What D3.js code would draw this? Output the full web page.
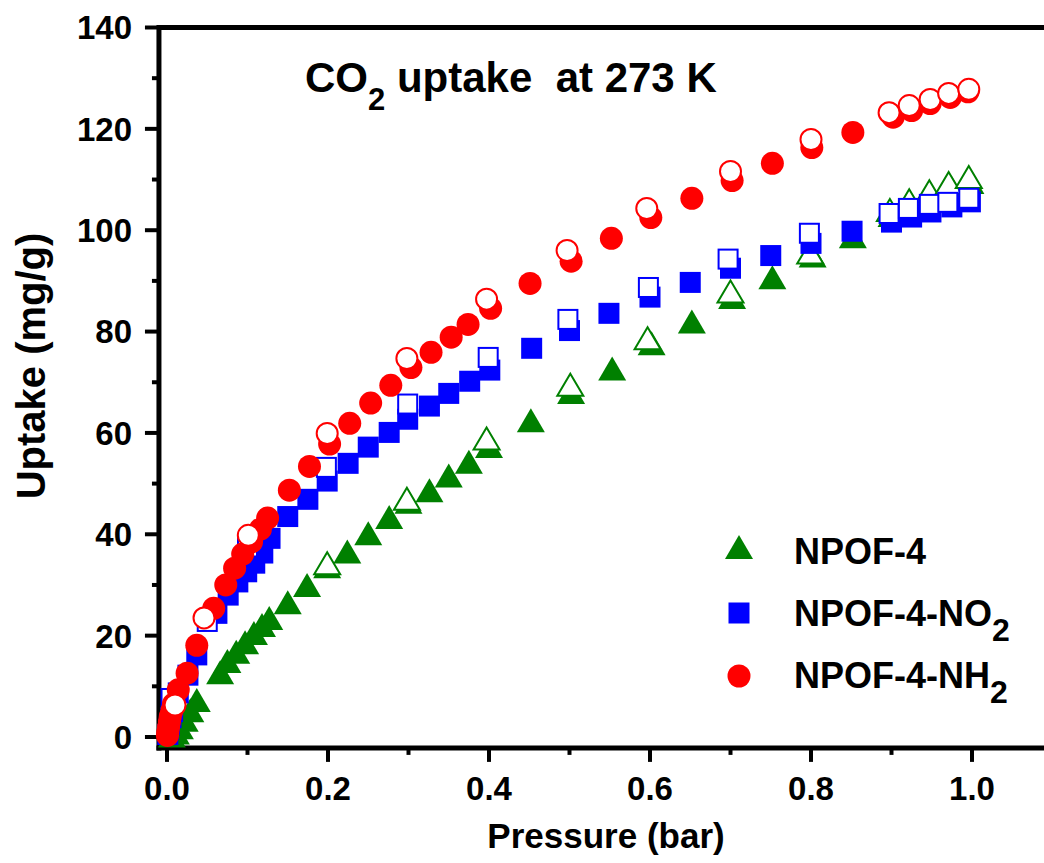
<!DOCTYPE html>
<html><head><meta charset="utf-8">
<script src="https://cdn.jsdelivr.net/npm/d3@7"></script>
<style>
html,body{margin:0;padding:0;background:#fff;}
svg text{font-family:"Liberation Sans",Arial,sans-serif;font-weight:bold;fill:#000;white-space:pre;}
</style></head>
<body><svg id="c" width="1044" height="863"></svg>
<script>
// ---- data (pressure bar, uptake mg/g) ----
const seriesNames = ["NPOF-4", "NPOF-4-NO", "NPOF-4-NH"];
const xTicks = [0.0, 0.2, 0.4, 0.6, 0.8, 1.0];
const yTicks = [0, 20, 40, 60, 80, 100, 120, 140];

const npof4Ads = [[0.006,0.3],[0.011,0.9],[0.016,1.9],[0.022,3.4],[0.029,5.3],[0.037,7.3],[0.066,12.8],[0.075,15.0],[0.086,16.8],[0.097,18.7],[0.108,20.5],[0.118,22.1],[0.127,23.5],[0.150,26.6],[0.174,30.0],[0.199,33.7],[0.224,36.6],[0.250,40.2],[0.276,43.4],[0.300,46.4],[0.326,48.7],[0.350,51.6],[0.375,54.3],[0.400,57.4],[0.452,62.5],[0.502,68.1],[0.553,72.7],[0.602,77.7],[0.652,82.0],[0.702,86.8],[0.752,90.7],[0.802,95.0],[0.852,98.8],[0.900,103.0],[0.925,105.0],[0.950,106.7],[0.975,108.3],[0.998,109.5]];
const npof4Des = [[0.199,34.3],[0.298,47.0],[0.397,58.9],[0.501,69.5],[0.597,78.7],[0.700,87.9],[0.799,95.6],[0.898,104.0],[0.922,105.9],[0.947,107.7],[0.971,109.3],[0.996,110.5]];

const no2Ads = [[0.001,0.5],[0.002,1.5],[0.003,2.5],[0.005,3.8],[0.007,5.0],[0.014,8.7],[0.026,12.2],[0.037,16.2],[0.062,24.4],[0.076,28.0],[0.088,30.6],[0.099,32.6],[0.109,34.3],[0.119,36.3],[0.128,39.2],[0.150,43.5],[0.175,46.9],[0.199,50.5],[0.225,54.0],[0.250,57.2],[0.276,60.1],[0.299,62.7],[0.326,65.3],[0.350,67.8],[0.376,70.2],[0.401,72.4],[0.453,76.7],[0.500,80.2],[0.549,83.6],[0.600,86.8],[0.650,89.7],[0.700,92.5],[0.750,95.0],[0.800,97.4],[0.851,99.8],[0.900,101.6],[0.925,102.6],[0.949,103.6],[0.975,104.6],[0.998,105.6]];
const no2Des = [[0.005,7.6],[0.050,22.8],[0.100,37.5],[0.198,53.2],[0.299,65.7],[0.399,74.9],[0.498,82.4],[0.598,88.7],[0.697,94.3],[0.798,99.4],[0.897,103.3],[0.921,104.3],[0.947,105.1],[0.970,105.5],[0.996,106.3]];

const nh2Ads = [[0.0005,0.3],[0.001,1.0],[0.002,2.0],[0.003,3.0],[0.004,4.0],[0.006,5.2],[0.008,6.5],[0.014,9.3],[0.025,12.6],[0.037,18.1],[0.058,25.4],[0.073,30.0],[0.084,33.3],[0.094,36.1],[0.105,38.5],[0.116,41.0],[0.125,43.2],[0.152,48.7],[0.177,53.4],[0.202,57.8],[0.227,61.9],[0.253,65.9],[0.278,69.4],[0.303,72.9],[0.328,75.9],[0.353,78.9],[0.374,81.4],[0.402,84.6],[0.451,89.5],[0.502,93.9],[0.552,98.4],[0.601,102.5],[0.652,106.3],[0.702,109.8],[0.752,113.2],[0.801,116.3],[0.852,119.3],[0.902,122.3],[0.925,123.6],[0.948,125.0],[0.973,126.2],[0.995,127.3]];
const nh2Des = [[0.010,6.3],[0.046,23.5],[0.101,39.8],[0.199,59.9],[0.298,74.7],[0.397,86.4],[0.497,96.0],[0.596,104.3],[0.700,111.6],[0.800,117.9],[0.897,123.2],[0.922,124.6],[0.948,125.8],[0.971,127.0],[0.996,127.8]];

// ---- layout ----
const GREEN = "#008000", BLUE = "#0000ff", RED = "#ff0000";
const svg = d3.select("#c");
const x = d3.scaleLinear().domain([0, 1]).range([167, 972]);
const y = d3.scaleLinear().domain([0, 140]).range([737, 27.5]);
const xLeft = x(-0.01), xRight = x(1.1);
const yBottom = y(-2.15), yTop = y(140);

// frame top line
svg.append("line").attr("x1", xLeft).attr("x2", xRight).attr("y1", yTop).attr("y2", yTop)
  .attr("stroke", "#000").attr("stroke-width", 5);

// y axis
const yAxis = svg.append("g");
yAxis.append("line").attr("x1", xLeft).attr("x2", xLeft).attr("y1", yTop - 2.5).attr("y2", yBottom + 2.5)
  .attr("stroke", "#000").attr("stroke-width", 5);
yTicks.forEach(t => {
  yAxis.append("line").attr("x1", xLeft - 14).attr("x2", xLeft).attr("y1", y(t)).attr("y2", y(t))
    .attr("stroke", "#000").attr("stroke-width", 4);
  yAxis.append("text").attr("x", 132).attr("y", y(t)).attr("dy", "0.36em")
    .attr("text-anchor", "end").style("font-size", "33px").text(d3.format("d")(t));
});
d3.range(10, 140, 20).forEach(t => {
  yAxis.append("line").attr("x1", xLeft - 7).attr("x2", xLeft).attr("y1", y(t)).attr("y2", y(t))
    .attr("stroke", "#000").attr("stroke-width", 4);
});

// x axis
const xAxis = svg.append("g");
xAxis.append("line").attr("x1", xLeft - 2.5).attr("x2", xRight).attr("y1", yBottom).attr("y2", yBottom)
  .attr("stroke", "#000").attr("stroke-width", 5);
xTicks.forEach(t => {
  xAxis.append("line").attr("x1", x(t)).attr("x2", x(t)).attr("y1", yBottom).attr("y2", yBottom + 14)
    .attr("stroke", "#000").attr("stroke-width", 4);
  xAxis.append("text").attr("x", x(t)).attr("y", 800)
    .attr("text-anchor", "middle").style("font-size", "33px").text(d3.format(".1f")(t));
});
[0.1, 0.3, 0.5, 0.7, 0.9, 1.1].forEach(t => {
  xAxis.append("line").attr("x1", x(t)).attr("x2", x(t)).attr("y1", yBottom).attr("y2", yBottom + 7)
    .attr("stroke", "#000").attr("stroke-width", 4);
});

// axis titles
svg.append("text").attr("x", 606).attr("y", 848).attr("text-anchor", "middle")
  .style("font-size", "35px").text("Pressure (bar)");
svg.append("text").attr("transform", "translate(45,366) rotate(-90)").attr("text-anchor", "middle")
  .style("font-size", "40px").text("Uptake (mg/g)");

// chart title
const title = svg.append("text").attr("x", 305).attr("y", 92).style("font-size", "42px");
title.append("tspan").text("CO");
title.append("tspan").attr("dy", 18).style("font-size", "31px").text("2");
title.append("tspan").attr("dy", -18).text(" uptake  at 273 K");

// ---- markers ----
const triPath = (w, h) => `M0,${-h/2}L${w/2},${h/2}L${-w/2},${h/2}Z`;
const plot = svg.append("g");

function triangles(data, filled) {
  plot.append("g").selectAll("path").data(data).join("path")
    .attr("transform", d => `translate(${x(d[0])},${y(d[1])})`)
    .attr("d", filled ? triPath(28, 24) : triPath(26, 22))
    .attr("fill", filled ? GREEN : "#fff")
    .attr("stroke", GREEN).attr("stroke-width", filled ? 0 : 2).attr("stroke-linejoin", "miter");
}
function squares(data, filled) {
  const s = filled ? 21 : 19;
  plot.append("g").selectAll("rect").data(data).join("rect")
    .attr("x", d => x(d[0]) - s/2).attr("y", d => y(d[1]) - s/2)
    .attr("width", s).attr("height", s)
    .attr("fill", filled ? BLUE : "#fff")
    .attr("stroke", BLUE).attr("stroke-width", filled ? 0 : 2);
}
function circles(data, filled) {
  plot.append("g").selectAll("circle").data(data).join("circle")
    .attr("cx", d => x(d[0])).attr("cy", d => y(d[1]))
    .attr("r", filled ? 11.5 : 10.5)
    .attr("fill", filled ? RED : "#fff")
    .attr("stroke", RED).attr("stroke-width", filled ? 0 : 2);
}
triangles(npof4Ads, true);
triangles(npof4Des, false);
squares(no2Ads, true);
squares(no2Des, false);
circles(nh2Ads, true);
circles(nh2Des, false);

// ---- legend ----
const lg = svg.append("g");
lg.append("path").attr("transform", "translate(739,547)").attr("d", triPath(28, 24)).attr("fill", GREEN);
lg.append("rect").attr("x", 739 - 10.5).attr("y", 613 - 10.5).attr("width", 21).attr("height", 21).attr("fill", BLUE);
lg.append("circle").attr("cx", 739).attr("cy", 676).attr("r", 11.5).attr("fill", RED);
const legendBase = [564, 626, 688];
seriesNames.forEach((name, i) => {
  const t = lg.append("text").attr("x", 794).attr("y", legendBase[i]).style("font-size", "36px");
  t.append("tspan").text(name);
  if (i > 0) t.append("tspan").attr("dy", 15).style("font-size", "32px").text("2");
});
</script></body></html>
